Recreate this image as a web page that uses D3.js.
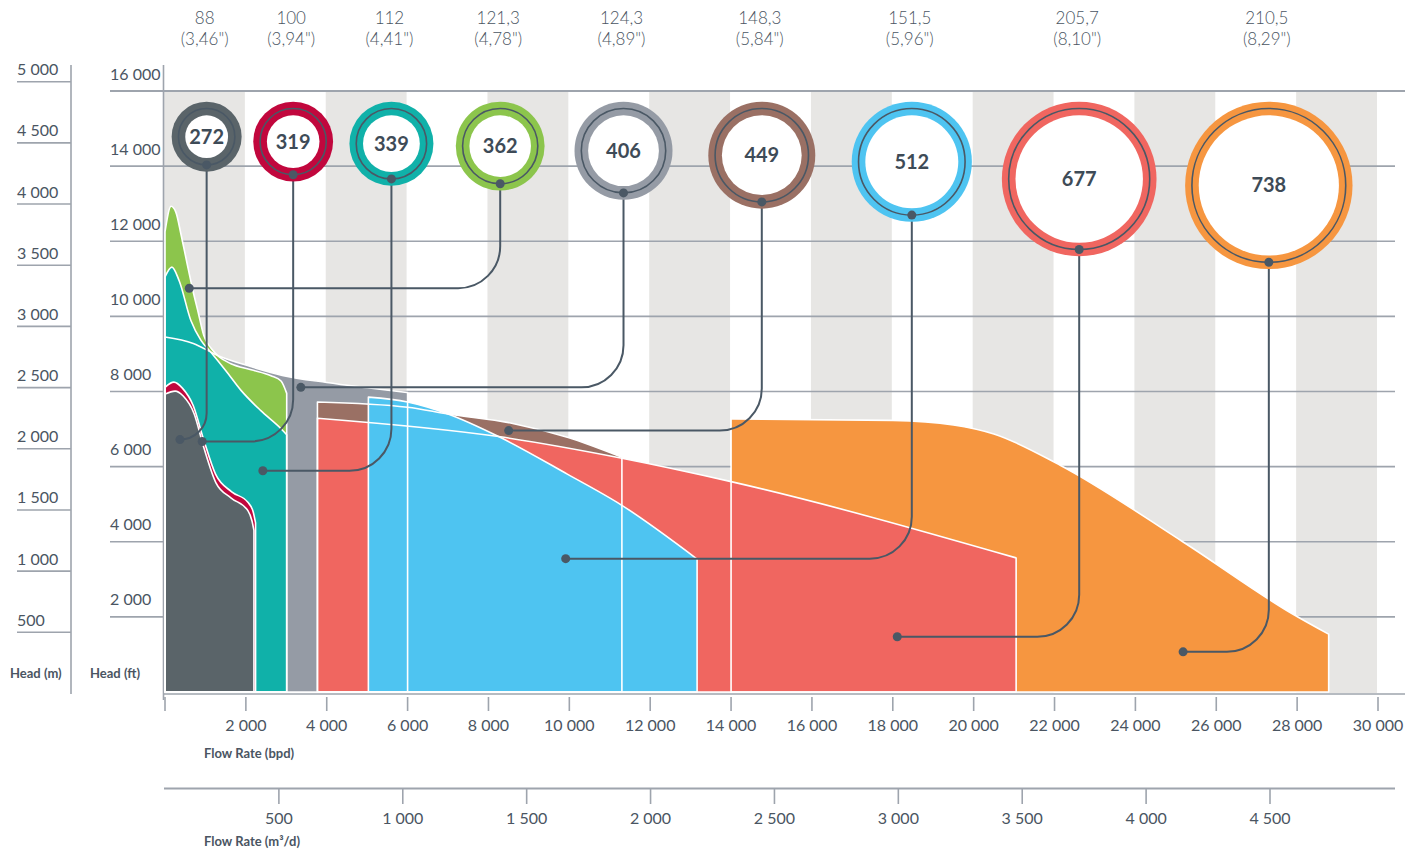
<!DOCTYPE html>
<html><head><meta charset="utf-8">
<script src="https://cdn.jsdelivr.net/npm/d3@7"></script>
<style>
body{margin:0;background:#fff;}
svg{display:block;font-family:Lato,"Open Sans",sans-serif;}
</style>
</head><body>
<svg id="c" width="1417" height="853"></svg>
<script>
// ---------- DATA ----------
const pumpValues = [272, 319, 339, 362, 406, 449, 512, 677, 738];
const diameterMM = ["88", "100", "112", "121,3", "124,3", "148,3", "151,5", "205,7", "210,5"];
const diameterIn = ["(3,46\")", "(3,94\")", "(4,41\")", "(4,78\")", "(4,89\")", "(5,84\")", "(5,96\")", "(8,10\")", "(8,29\")"];
// marker (ring) location along the flow axis, bpd
const markerFlow = [1030, 3170, 5600, 8290, 11340, 14760, 18470, 22610, 27300];
// pointer anchor inside each envelope [bpd, ft]
const anchor272 = [370, 6720];
const anchor319 = [920, 6670];
const anchor339 = [2420, 5890];
const anchor362 = [600, 10750];
const anchor406 = [3360, 8110];
const anchor449 = [8500, 6960];
const anchor512 = [9910, 3550];
const anchor677 = [18110, 1470];
const anchor738 = [25180, 1070];
// envelope top curves [bpd, ft]
const curve272 = [[0,7930],[250,8010],[450,7880],[720,7410],[960,6510],[1260,5570],[1630,5170],[2050,4830],[2150,4560],[2200,4300]];
const curve319 = [[0,8110],[220,8250],[430,8090],[700,7620],[950,6740],[1250,5800],[1650,5330],[2050,5050],[2180,4800],[2240,4500]];
const curve339 = [[0,11050],[170,11310],[350,10950],[640,9890],[890,9360],[1140,9040],[1500,8560],[1880,8030],[2370,7490],[2870,7010],[3010,6850]];
const curve362 = [[0,12250],[150,12930],[270,12770],[400,12160],[540,11440],[690,10690],[820,10110],[960,9490],[1140,9150],[1340,8920],[1630,8740],[2130,8580],[2620,8420],[2870,8280],[3010,7950]];
const curve406 = [[0,9450],[700,9280],[1300,8960],[2100,8670],[2900,8430],[4000,8240],[5000,8100],[6000,7970]];
const curve449 = [[3770,7720],[6000,7580],[7000,7400],[8600,7150],[9950,6780],[11300,6250]];
const curve677 = [[3770,7290],[8250,6800],[11270,6230],[14000,5600],[21050,3570]];
const curve512 = [[5030,7850],[6000,7720],[7000,7400],[8250,6800],[9950,5800],[11270,4990],[13160,3540]];
const curve738 = [[14000,7270],[18000,7230],[19500,7110],[20500,6870],[22150,6030],[25200,3980],[27900,2070],[28780,1540]];
// axis ticks
const flowTicks = [0,2000,4000,6000,8000,10000,12000,14000,16000,18000,20000,22000,24000,26000,28000,30000];
const flowM3Ticks = [500,1000,1500,2000,2500,3000,3500,4000,4500];
const headFtTicks = [2000,4000,6000,8000,10000,12000,14000,16000];
const headMTicks = [500,1000,1500,2000,2500,3000,3500,4000,4500,5000];

// ---------- STYLE ----------
const pumpColors = ["#5a6469","#c1073d","#10b1a9","#8cc54c","#959ba5","#9a7064","#4ec4f1","#f06660","#f69640"];
const ink = "#4a5865";
const txt = "#4a5562";
const gridC = "#9ea4ad";
const bandC = "#e7e6e4";

const fmt = d3.formatLocale({decimal:",", thousands:" ", grouping:[3], currency:["",""]}).format(",d");

const curves = [curve272, curve319, curve339, curve362, curve406, curve449, curve512, curve677, curve738];
const anchors = [anchor272, anchor319, anchor339, anchor362, anchor406, anchor449, anchor512, anchor677, anchor738];
const pumps = pumpValues.map((v,i)=>({v, mm:diameterMM[i], inch:diameterIn[i], flow:markerFlow[i], curve:curves[i], anchor:anchors[i], color:pumpColors[i]}));

// ---------- SCALES ----------
const x = d3.scaleLinear().domain([0,30000]).range([165,1378]);
const y = d3.scaleLinear().domain([0,16000]).range([692,91]);
const yM = d3.scaleLinear().domain([0,5000]).range([693.5,81.7]);
const xM = d3.scaleLinear().domain([0,4500]).range([155,1270]);
const r = d3.scaleLinear().domain([272,738]).range([35,83.7]);

const svg = d3.select("#c");

// bands
const bandIdx = d3.range(flowTicks.length-1);
svg.append("g").selectAll("rect").data(bandIdx.filter(i=>i%2===0)).join("rect")
  .attr("x", i=>x(flowTicks[i])-1).attr("width", i=>x(flowTicks[i+1])-x(flowTicks[i]))
  .attr("y", y(16000)).attr("height", y(0)+1-y(16000)).attr("fill", bandC);

// horizontal grid (ft)
svg.append("g").selectAll("line").data(headFtTicks).join("line")
  .attr("x1",110).attr("x2", d=>d===16000?1405:1395)
  .attr("y1", d=>y(d)).attr("y2", d=>y(d))
  .attr("stroke", gridC).attr("stroke-width", d=>d===16000?2:1.6);
svg.append("g").selectAll("text").data(headFtTicks).join("text")
  .attr("x",110).attr("y", d=>y(d)-11.5).text(fmt)
  .attr("font-size",16).attr("fill",txt);

// m axis
svg.append("line").attr("x1",71).attr("x2",71).attr("y1",65).attr("y2",694).attr("stroke",gridC).attr("stroke-width",1.6);
svg.append("g").selectAll("line").data(headMTicks).join("line")
  .attr("x1",17).attr("x2",71).attr("y1", d=>yM(d)).attr("y2", d=>yM(d))
  .attr("stroke", gridC).attr("stroke-width",1.6);
svg.append("g").selectAll("text").data(headMTicks).join("text")
  .attr("x",17).attr("y", d=>yM(d)-6.5).text(fmt)
  .attr("font-size",16).attr("fill",txt);

// ft axis line
svg.append("line").attr("x1",163.5).attr("x2",163.5).attr("y1",65).attr("y2",700).attr("stroke",gridC).attr("stroke-width",1.6);
// baseline
svg.append("line").attr("x1",163).attr("x2",1405).attr("y1",694).attr("y2",694).attr("stroke",gridC).attr("stroke-width",1.6);

// axis titles
svg.append("text").attr("x",10).attr("y",678).text("Head (m)").attr("font-size",13).attr("font-weight",700).attr("fill",txt);
svg.append("text").attr("x",90).attr("y",678).text("Head (ft)").attr("font-size",13).attr("font-weight",700).attr("fill",txt);

// x axis bpd
svg.append("g").selectAll("line").data(flowTicks).join("line")
  .attr("x1", d=>x(d)).attr("x2", d=>x(d)).attr("y1",697).attr("y2",711)
  .attr("stroke",gridC).attr("stroke-width",1.6);
svg.append("g").selectAll("text").data(flowTicks.filter(d=>d>0)).join("text")
  .attr("x", d=>x(d)).attr("y",731).attr("text-anchor","middle").text(fmt)
  .attr("font-size",16).attr("fill",txt);
svg.append("text").attr("x",204).attr("y",758).text("Flow Rate (bpd)").attr("font-size",13).attr("font-weight",700).attr("fill",txt);

// x axis m3/d
svg.append("line").attr("x1",164).attr("x2",1395).attr("y1",788.5).attr("y2",788.5).attr("stroke",gridC).attr("stroke-width",1.8);
svg.append("g").selectAll("line").data(flowM3Ticks).join("line")
  .attr("x1", d=>xM(d)).attr("x2", d=>xM(d)).attr("y1",788).attr("y2",804)
  .attr("stroke",gridC).attr("stroke-width",1.6);
svg.append("g").selectAll("text").data(flowM3Ticks).join("text")
  .attr("x", d=>xM(d)).attr("y",824).attr("text-anchor","middle").text(fmt)
  .attr("font-size",16).attr("fill",txt);
svg.append("text").attr("x",204).attr("y",846).text("Flow Rate (m³/d)").attr("font-size",13).attr("font-weight",700).attr("fill",txt);

// areas
const area = d3.area().x(d=>x(d[0])).y0(y(0)).y1(d=>y(d[1])).curve(d3.curveMonotoneX);
const drawOrder = [738, 406, 362, 339, 319, 272, 449, 677, 512];
const ordered = drawOrder.map(v=>pumps.find(p=>p.v===v));
svg.append("g").selectAll("path").data(ordered).join("path")
  .attr("d", p=>area(p.curve)).attr("fill", p=>p.color);
svg.append("g").selectAll("path").data(ordered).join("path")
  .attr("d", p=>area(p.curve)).attr("fill","none").attr("stroke","#fff").attr("stroke-width",1.6).attr("stroke-linejoin","round");

// rings
const ringTop = y(16000)+10.7;
const ring = 13.6;
pumps.forEach(p=>{
  p.cx = x(p.flow); p.R = r(p.v); p.cy = ringTop + p.R; p.thin = p.R - ring/2;
});

// connectors
const conn = svg.append("g");
pumps.forEach(p=>{
  const ax = x(p.anchor[0]), ay = y(p.anchor[1]);
  const sy = p.cy + p.thin;
  const rr = Math.min(42, p.cx - ax);
  const path = `M${p.cx},${sy} L${p.cx},${ay-rr} A${rr},${rr} 0 0 1 ${p.cx-rr},${ay} L${ax},${ay}`;
  conn.append("path").attr("d",path).attr("fill","none").attr("stroke",ink).attr("stroke-width",2);
  conn.append("circle").attr("cx",ax).attr("cy",ay).attr("r",4.5).attr("fill",ink);
});

const rings = svg.append("g");
pumps.forEach(p=>{
  rings.append("circle").attr("cx",p.cx).attr("cy",p.cy).attr("r",p.R).attr("fill",p.color);
  rings.append("circle").attr("cx",p.cx).attr("cy",p.cy).attr("r",p.R-ring).attr("fill","#fff");
  rings.append("circle").attr("cx",p.cx).attr("cy",p.cy).attr("r",p.thin).attr("fill","none").attr("stroke",ink).attr("stroke-width",1.6);
  rings.append("circle").attr("cx",p.cx).attr("cy",p.cy+p.thin).attr("r",4.5).attr("fill",ink);
  rings.append("text").attr("x",p.cx).attr("y",p.cy+7).attr("text-anchor","middle")
    .attr("font-size",20).attr("font-weight",700).attr("fill","#3e4b57").text(p.v);
  svg.append("text").attr("x",p.cx-2).attr("y",24).attr("text-anchor","middle")
    .attr("font-size",17).attr("font-weight",300).attr("fill",txt).text(p.mm);
  svg.append("text").attr("x",p.cx-2).attr("y",45).attr("text-anchor","middle")
    .attr("font-size",17).attr("font-weight",300).attr("fill",txt).text(p.inch);
});
</script>
</body></html>
